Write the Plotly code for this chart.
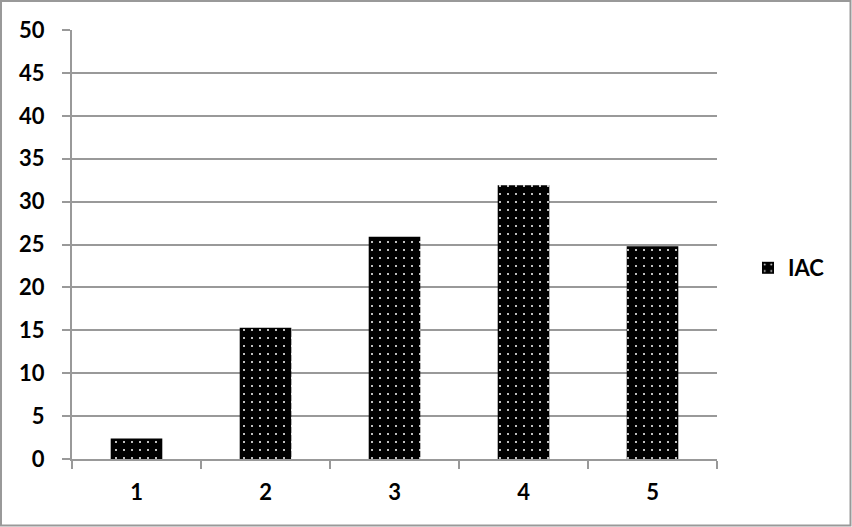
import plotly.graph_objects as go

categories = ["1", "2", "3", "4", "5"]
iac_values = [2.4, 15.3, 25.9, 31.9, 24.8]
y_tick_values = [0, 5, 10, 15, 20, 25, 30, 35, 40, 45, 50]

W, H = 852, 527
L, R, T, B = 72, 717, 30, 459
pw, ph = R - L, B - T

fig = go.Figure()
fig.add_trace(go.Bar(
    x=categories, y=iac_values, name="IAC",
    marker=dict(color="black", line=dict(width=0),
                pattern=dict(shape=".", fgcolor="white", bgcolor="black",
                             size=8, solidity=0.05, fillmode="replace")),
))

fam = "Lato, 'Open Sans', sans-serif"
fig.update_layout(
    width=W, height=H,
    margin=dict(l=L, r=W - R, t=T, b=H - B, pad=0),
    paper_bgcolor="white", plot_bgcolor="white",
    bargap=0.6,
    showlegend=True,
    legend=dict(x=(748 - L) / pw, y=(B - 268) / ph, xanchor="left", yanchor="middle",
                font=dict(family=fam, size=22, color="black", weight="bold")),
    font=dict(family=fam, size=22, color="black"),
    xaxis=dict(type="category", showline=True, linecolor="#999999", linewidth=2,
               ticks="outside", tickson="boundaries", ticklen=8, tickcolor="#999999", tickwidth=2,
               tickfont=dict(size=22, weight="bold"), showgrid=False, ticklabelstandoff=13),
    yaxis=dict(range=[0, 50], tickvals=y_tick_values, showline=True, linecolor="#999999", linewidth=2,
               ticks="outside", ticklen=8, tickcolor="#999999", tickwidth=2,
               showgrid=True, gridcolor="#999999", gridwidth=1.5, zeroline=False,
               tickfont=dict(size=22, weight="bold"), ticklabelstandoff=13),
    shapes=[dict(type="rect", xref="paper", yref="paper",
                 x0=(1 - L) / pw, x1=(W - 1.5 - L) / pw,
                 y0=(B - (H - 1.5)) / ph, y1=(B - 1) / ph,
                 line=dict(color="#999999", width=2), fillcolor="rgba(0,0,0,0)", layer="below")],
)

fig.write_html("out.html", config={"displayModeBar": False},
               post_script="document.body.style.margin='0';")
